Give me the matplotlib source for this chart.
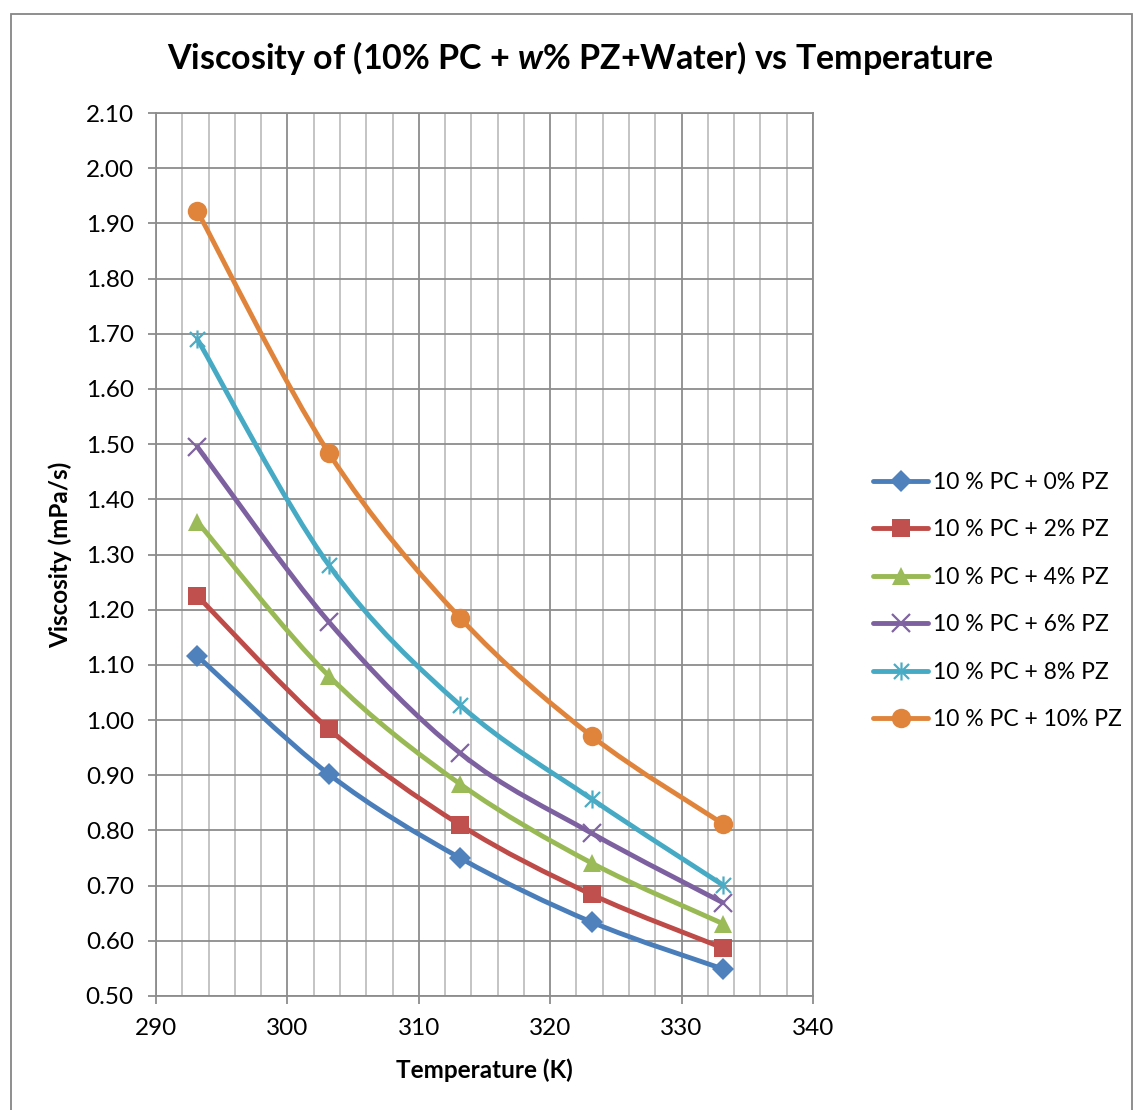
import matplotlib
matplotlib.use('Agg')
import numpy as np
import matplotlib.pyplot as plt
from matplotlib.path import Path
from matplotlib.patches import PathPatch, Rectangle
from matplotlib.lines import Line2D

plt.rcParams['font.family'] = ['Lato', 'DejaVu Sans']
plt.rcParams['mathtext.fontset'] = 'custom'
plt.rcParams['mathtext.it'] = 'Lato:bold:italic'
plt.rcParams['mathtext.rm'] = 'Lato:bold'

# Data
temperature = [293.15, 303.15, 313.15, 323.15, 333.15]
pz_0 = [1.116, 0.902, 0.750, 0.634, 0.549]
pz_2 = [1.225, 0.984, 0.810, 0.684, 0.587]
pz_4 = [1.359, 1.080, 0.884, 0.741, 0.631]
pz_6 = [1.495, 1.178, 0.940, 0.795, 0.669]
pz_8 = [1.690, 1.281, 1.027, 0.857, 0.701]
pz_10 = [1.922, 1.484, 1.185, 0.971, 0.812]
labels = ['10 % PC + 0% PZ', '10 % PC + 2% PZ', '10 % PC + 4% PZ',
          '10 % PC + 6% PZ', '10 % PC + 8% PZ', '10 % PC + 10% PZ']

series = [pz_0, pz_2, pz_4, pz_6, pz_8, pz_10]
line_colors = ['#4A7EBB', '#BE4B48', '#98B954', '#7D60A0', '#46AAC5', '#E0843C']
marker_colors = ['#4F81BD', '#C0504D', '#9BBB59', '#8064A2', '#4BACC6', '#E0843C']

# excel style star marker: X plus a vertical bar
star = Path([(-1, -1), (1, 1), (-1, 1), (1, -1), (0, -1.2), (0, 1.2)],
            [Path.MOVETO, Path.LINETO, Path.MOVETO, Path.LINETO, Path.MOVETO, Path.LINETO])
markers = ['D', 's', '^', 'x', star, 'o']
msizes = [11, 13, 13, 13, 13, 14]
mew = [0, 0, 0, 1.6, 1.6, 0]


def smooth_path(x, y):
    # cubic bezier through the points, like excel "smoothed line"
    pts = np.column_stack([x, y])
    n = len(pts)
    verts = [pts[0]]
    codes = [Path.MOVETO]
    for i in range(n - 1):
        p0 = pts[max(i - 1, 0)]
        p1 = pts[i]
        p2 = pts[i + 1]
        p3 = pts[min(i + 2, n - 1)]
        c1 = p1 + (p2 - p0) / 6.0
        c2 = p2 - (p3 - p1) / 6.0
        verts += [c1, c2, p2]
        codes += [Path.CURVE4] * 3
    return Path(verts, codes)


fig = plt.figure(figsize=(11.34, 11.10), dpi=100)
ax = fig.add_axes([156 / 1134, 1 - 996 / 1110, (813 - 156) / 1134, (996 - 113) / 1110])

# outer chart border
fig.patches.append(Rectangle((11 / 1134, -0.05), 1121 / 1134, 1 - 14 / 1110 + 0.05,
                             transform=fig.transFigure, fill=False,
                             edgecolor='#868686', linewidth=1.3))

handles = []
for vals, lc, mc, m, ms, mw, lab in zip(series, line_colors, marker_colors,
                                        markers, msizes, mew, labels):
    ax.add_patch(PathPatch(smooth_path(temperature, vals), facecolor='none',
                           edgecolor=lc, linewidth=3.5, capstyle='round', zorder=3))
    ax.plot(temperature, vals, linestyle='none', marker=m, markersize=ms,
            markerfacecolor=mc, markeredgecolor=mc, markeredgewidth=mw, zorder=4)
    handles.append(Line2D([], [], color=lc, linewidth=3.5, solid_capstyle='round',
                          marker=m, markersize=ms, markerfacecolor=mc,
                          markeredgecolor=mc, markeredgewidth=mw))

ax.set_xlim(290, 340)
ax.set_ylim(0.50, 2.10)
ax.set_xticks(np.arange(290, 341, 10))
ax.set_xticks(np.arange(290, 341, 2), minor=True)
ax.set_yticks(np.arange(0.5, 2.101, 0.1))
ax.set_yticklabels([f'{v:.2f}' for v in np.arange(0.5, 2.101, 0.1)])

ax.grid(which='minor', axis='x', color='#BFBFBF', linewidth=1.3, zorder=0)
ax.grid(which='major', axis='x', color='#8C8C8C', linewidth=1.3, zorder=0)
ax.grid(which='major', axis='y', color='#8C8C8C', linewidth=1.3, zorder=0)
ax.set_axisbelow(True)

for s in ax.spines.values():
    s.set_color('#8C8C8C')
    s.set_linewidth(1.3)

ax.tick_params(axis='both', which='major', length=6, width=1.3, color='#8C8C8C',
               labelsize=17.5, pad=10)
ax.tick_params(axis='x', which='minor', length=0)

ax.set_xlabel('Temperature (K)', fontsize=17.5, fontweight='bold')
ax.set_ylabel('Viscosity (mPa/s)', fontsize=17.5, fontweight='bold')
ax.xaxis.set_label_coords(0.5, -0.071)
ax.yaxis.set_label_coords(-0.127, 0.5)

fig.text(580 / 1134, 1 - 58 / 1110, r'Viscosity of (10% PC + $w$% PZ+Water) vs Temperature',
         fontsize=24.5, fontweight='bold', ha='center', va='center')

fig.legend(handles, labels, loc='center left', bbox_to_anchor=(873 / 1134, 1 - 601 / 1110),
           frameon=False, fontsize=16.5, handlelength=2.4, handletextpad=0.2,
           labelspacing=1.16, borderpad=0, borderaxespad=0, numpoints=1)

fig.savefig('out.png', dpi=100)
